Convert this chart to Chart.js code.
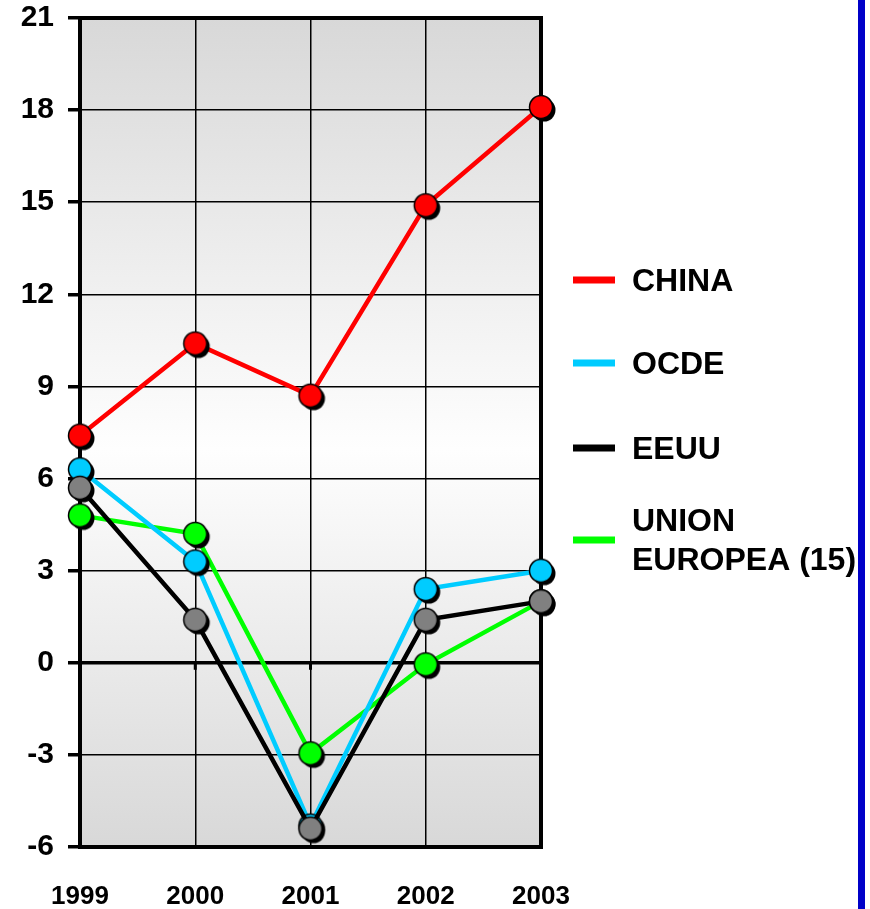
<!DOCTYPE html>
<html>
<head>
<meta charset="utf-8">
<script src="https://cdn.jsdelivr.net/npm/chart.js@4"></script>
<style>
  html, body { margin: 0; padding: 0; background: #fff; }
  #wrap { width: 870px; height: 909px; position: relative; }
</style>
</head>
<body>
<div id="wrap"><canvas id="chart" width="870" height="909"></canvas></div>
<script>
// data
const years = ['1999', '2000', '2001', '2002', '2003'];
const china = [7.4, 10.4, 8.7, 14.9, 18.1];
const ocde = [6.3, 3.3, -5.3, 2.4, 3.0];
const eeuu = [5.7, 1.4, -5.4, 1.4, 2.0];
const ue15 = [4.8, 4.2, -2.95, -0.05, 2.0];
const yTicks = [-6, -3, 0, 3, 6, 9, 12, 15, 18, 21];

const FONT = '"Liberation Sans", Arial, sans-serif';

// marker image: coloured dot with black rim and a dark drop shadow
function marker(fill) {
    const r = 11.5, off = 3, size = 2 * Math.ceil(r + off + 2);
    const c = document.createElement('canvas');
    c.width = size; c.height = size;
    const g = c.getContext('2d');
    const m = size / 2;
    g.fillStyle = '#000';
    g.beginPath(); g.arc(m + off, m + off, r, 0, Math.PI * 2); g.fill();
    g.fillStyle = fill;
    g.strokeStyle = '#000';
    g.lineWidth = 1.5;
    g.beginPath(); g.arc(m, m, r, 0, Math.PI * 2); g.fill(); g.stroke();
    return c;
}

// order: lower number ends up on top
const series = [
    { label: 'CHINA', data: china, line: '#ff0000', dot: '#ff0000', order: 3, legend: ['CHINA'] },
    { label: 'OCDE', data: ocde, line: '#00ccff', dot: '#00ccff', order: 1, legend: ['OCDE'] },
    { label: 'EEUU', data: eeuu, line: '#000000', dot: '#808080', order: 0, legend: ['EEUU'] },
    { label: 'UNION EUROPEA (15)', data: ue15, line: '#00ff00', dot: '#00ff00', order: 2, legend: ['UNION', 'EUROPEA (15)'] }
];

const framePlugin = {
    id: 'frame',
    beforeDraw(chart) {
        const { ctx, chartArea: a } = chart;
        const grad = ctx.createLinearGradient(0, a.top, 0, a.bottom);
        grad.addColorStop(0, '#d8d8d8');
        grad.addColorStop(0.52, '#fefefe');
        grad.addColorStop(1, '#d8d8d8');
        ctx.save();
        ctx.fillStyle = grad;
        ctx.fillRect(a.left, a.top, a.right - a.left, a.bottom - a.top);
        ctx.restore();
    },
    beforeDatasetsDraw(chart) {
        const { ctx, chartArea: a, scales } = chart;
        ctx.save();
        ctx.strokeStyle = '#000';
        ctx.lineWidth = 4;
        ctx.beginPath();
        ctx.moveTo(a.left - 2, a.top);
        ctx.lineTo(a.right, a.top);
        ctx.lineTo(a.right, a.bottom + 2);
        ctx.stroke();
        // little stubs under the zero line
        const y0 = scales.y.getPixelForValue(0);
        ctx.lineWidth = 3;
        years.forEach((yr, i) => {
            const x = scales.x.getPixelForValue(i);
            ctx.beginPath();
            ctx.moveTo(x, y0);
            ctx.lineTo(x, y0 + 7);
            ctx.stroke();
        });
        ctx.restore();
    },
    afterDraw(chart) {
        const { ctx } = chart;
        ctx.save();
        // blue rule at the right
        ctx.fillStyle = '#0000c8';
        ctx.fillRect(858, 0, 7, 909);
        // legend
        const rows = [280, 363, 448, 540];
        ctx.font = 'bold 32px ' + FONT;
        ctx.textBaseline = 'middle';
        ctx.fillStyle = '#000';
        series.forEach((s, i) => {
            const y = rows[i];
            ctx.strokeStyle = s.line;
            ctx.lineWidth = 7;
            ctx.beginPath();
            ctx.moveTo(573, y);
            ctx.lineTo(615, y);
            ctx.stroke();
            const n = s.legend.length;
            s.legend.forEach((t, k) => {
                ctx.fillText(t, 632, y + 2 + (k - (n - 1) / 2) * 39);
            });
        });
        ctx.restore();
    }
};

new Chart(document.getElementById('chart').getContext('2d'), {
    type: 'line',
    data: {
        labels: years,
        datasets: series.map(s => ({
            label: s.label,
            data: s.data,
            order: s.order,
            borderColor: s.line,
            borderWidth: 4.5,
            backgroundColor: s.dot,
            pointStyle: marker(s.dot),
            pointRadius: 12,
            tension: 0,
            fill: false
        }))
    },
    options: {
        responsive: false,
        animation: false,
        events: [],
        layout: { padding: { top: 18, right: 329, bottom: 0, left: 0 } },
        plugins: { legend: { display: false }, tooltip: { enabled: false } },
        scales: {
            x: {
                offset: false,
                afterFit: s => { s.height = 62; s.paddingLeft = 0; s.paddingRight = 0; },
                grid: { color: '#000', lineWidth: 1.5, drawTicks: false },
                border: { color: '#000', width: 4 },
                ticks: { color: '#000', padding: 34, font: { family: FONT, size: 26, weight: 'bold' } }
            },
            y: {
                min: -6,
                max: 21,
                afterFit: s => { s.width = 80; s.paddingTop = 0; s.paddingBottom = 0; },
                afterBuildTicks: s => { s.ticks = yTicks.map(v => ({ value: v })); },
                grid: {
                    color: '#000',
                    lineWidth: c => (c.tick && c.tick.value === 0 ? 3.5 : 1.5),
                    tickColor: '#000',
                    tickLength: 12,
                    tickWidth: 3.5
                },
                border: { color: '#000', width: 4 },
                ticks: { color: '#000', padding: 14, font: { family: FONT, size: 30, weight: 'bold' } }
            }
        }
    },
    plugins: [framePlugin]
});
</script>
</body>
</html>
